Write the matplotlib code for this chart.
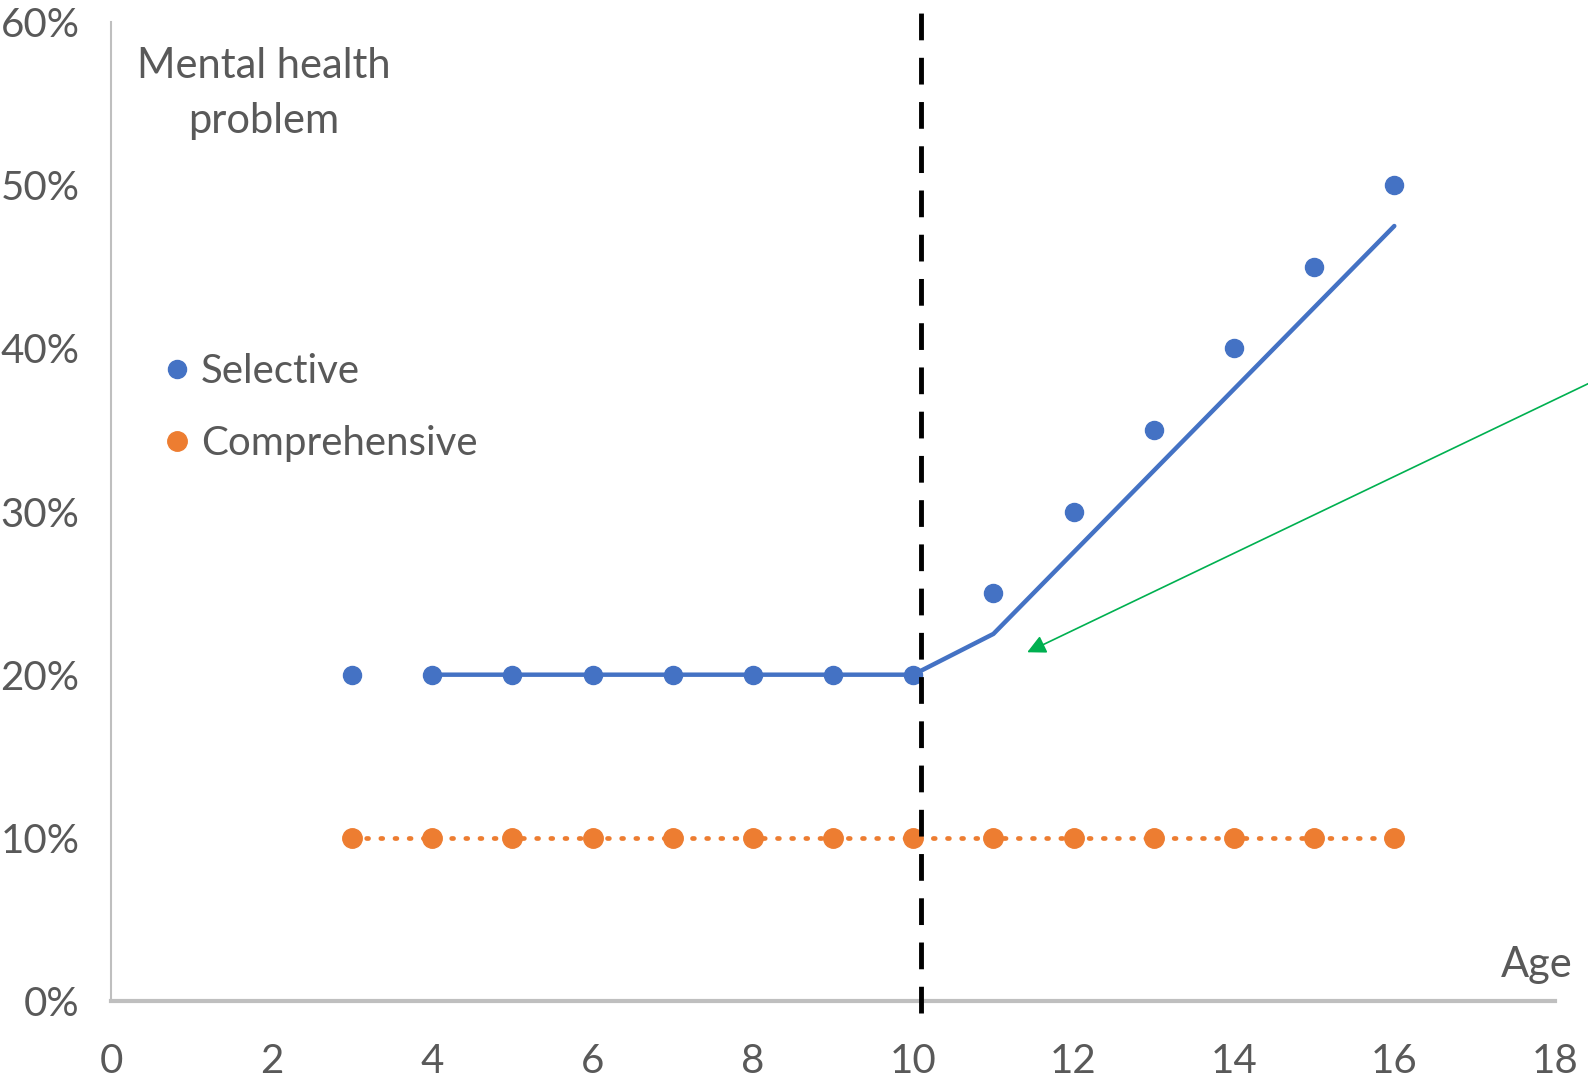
import numpy as np
import matplotlib.pyplot as plt
from matplotlib.ticker import FuncFormatter
from matplotlib.lines import Line2D

plt.rcParams['font.family'] = ['Lato', 'DejaVu Sans']

# ages and observed shares
ages = [3, 4, 5, 6, 7, 8, 9, 10, 11, 12, 13, 14, 15, 16]
selective = [20, 20, 20, 20, 20, 20, 20, 20, 25, 30, 35, 40, 45, 50]
comprehensive = [10, 10, 10, 10, 10, 10, 10, 10, 10, 10, 10, 10, 10, 10]

# fitted line for selective schools
trend_ages = [4, 5, 6, 7, 8, 9, 10, 11, 12, 13, 14, 15, 16]
trend_selective = [20, 20, 20, 20, 20, 20, 20, 22.5, 27.5, 32.5, 37.5, 42.5, 47.5]

cutoff_age = 10.1

blue = '#4472C4'
orange = '#ED7D31'
grey = '#595959'

fig = plt.figure(figsize=(15.88, 10.81), dpi=100)
ax = fig.add_axes([0.0702, 0.074, 0.9088, 0.9056])

ax.plot(trend_ages, trend_selective, color=blue, lw=3.2, solid_capstyle='round', zorder=3)
ax.plot(ages, comprehensive, color=orange, lw=3.4, linestyle=(0, (0.4, 2.6)),
        dash_capstyle='round', zorder=2)
ax.plot(ages, selective, 'o', color=blue, ms=13, zorder=4)
ax.plot(ages, comprehensive, 'o', color=orange, ms=14, zorder=4)

ax.axvline(cutoff_age, ymin=-0.012, ymax=1.03, color='black', lw=3.5,
           linestyle=(0, (5.5, 3.6)), clip_on=False, zorder=5)

# arrow pointing at the kink
ax.annotate('', xy=(11.39, 21.3), xytext=(18.7, 38.5),
            arrowprops=dict(arrowstyle='-|>', color='#00B050', lw=1.2,
                            mutation_scale=28),
            annotation_clip=False)

ax.set_xlim(0, 18)
ax.set_ylim(0, 60)
ax.set_xticks(np.arange(0, 19, 2))
ax.set_yticks(np.arange(0, 61, 10))
ax.yaxis.set_major_formatter(FuncFormatter(lambda v, p: f'{v:.0f}%'))
ax.tick_params(length=0, labelsize=29, labelcolor=grey)
ax.tick_params(axis='y', pad=23)
ax.tick_params(axis='x', pad=30)

for s in ['top', 'right']:
    ax.spines[s].set_visible(False)
ax.spines['left'].set_color('#BFBFBF')
ax.spines['left'].set_linewidth(1.5)
ax.spines['bottom'].set_color('#BFBFBF')
ax.spines['bottom'].set_linewidth(3)

ax.text(1.9, 55.6, 'Mental health\nproblem', ha='center', va='center',
        fontsize=30, color=grey, linespacing=1.55)
ax.text(17.78, 2.2, 'Age', ha='center', va='center', fontsize=30, color=grey)

handles = [Line2D([], [], marker='o', ls='none', color=blue, ms=13),
           Line2D([], [], marker='o', ls='none', color=orange, ms=14)]
ax.legend(handles, ['Selective', 'Comprehensive'], loc='upper left',
          bbox_to_anchor=(0.02, 0.678), frameon=False, fontsize=29,
          labelcolor=grey, handletextpad=0.1, handlelength=1.0,
          labelspacing=0.85, borderaxespad=0)

fig.savefig('out.png', dpi=100)
